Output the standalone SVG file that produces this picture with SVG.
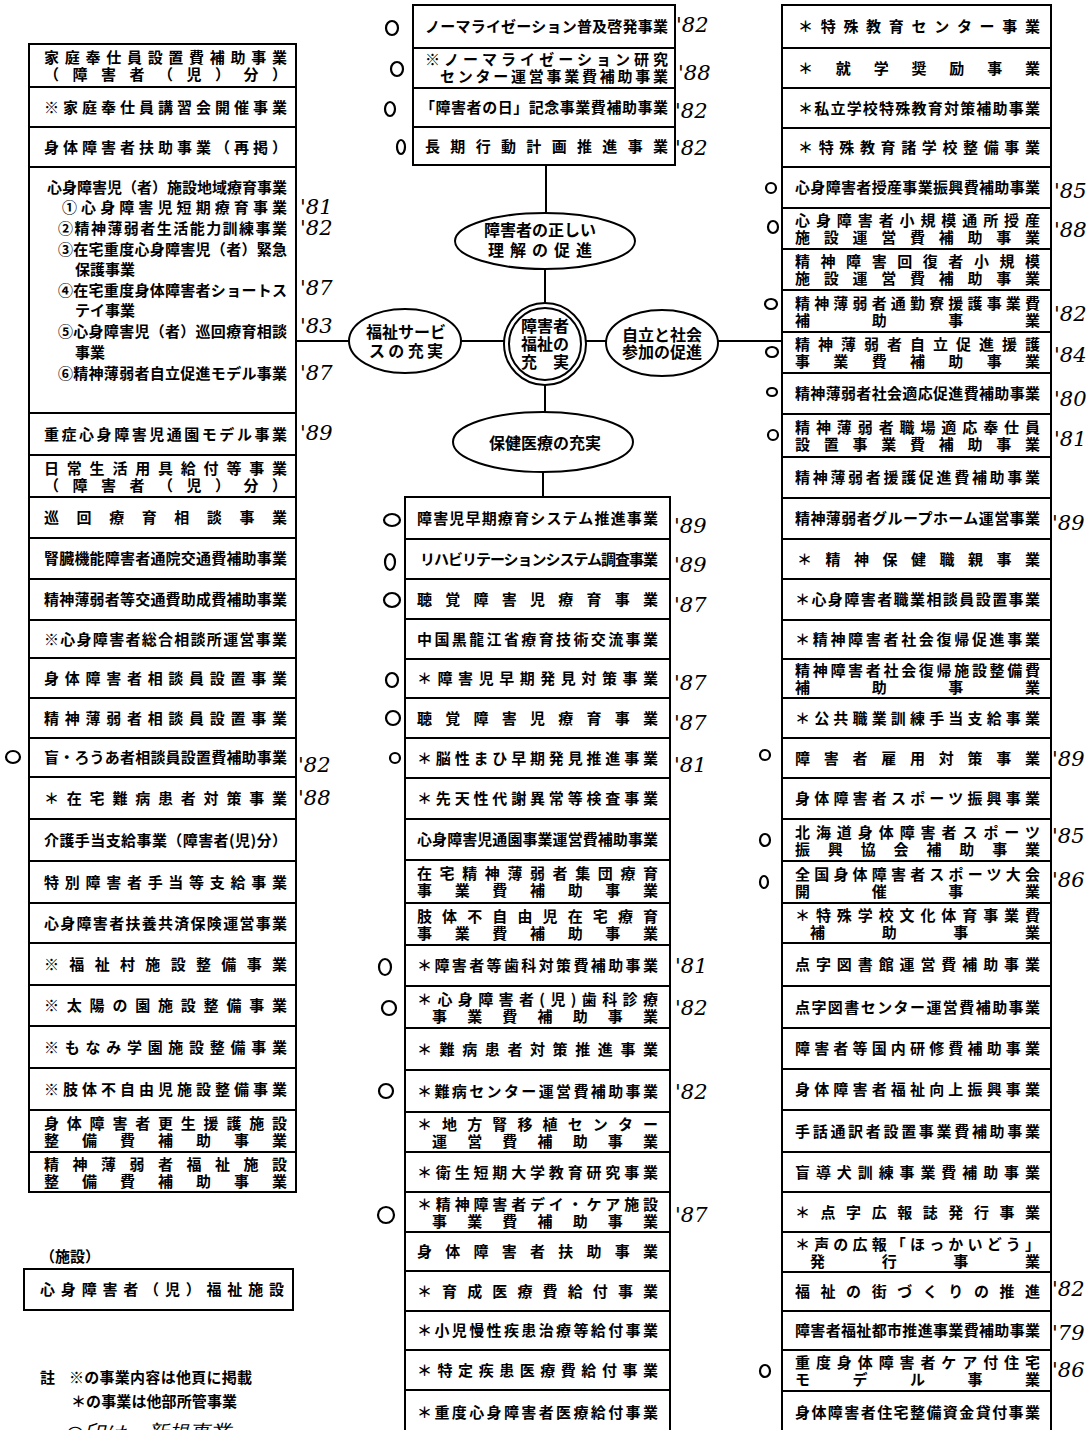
<svg xmlns="http://www.w3.org/2000/svg" width="1091" height="1430" viewBox="0 0 1091 1430">
<style>
.b{fill:#fff;stroke:#000;stroke-width:2}
.t{font-family:"Noto Sans CJK JP","Noto Sans CJK SC",sans-serif;font-size:15px;font-weight:700;fill:#000}
.e{font-family:"Noto Sans CJK JP","Noto Sans CJK SC",sans-serif;font-size:16px;font-weight:700;fill:#000;text-anchor:middle}
.c{fill:none;stroke:#000;stroke-width:2}
.h{font-family:"DejaVu Serif","Liberation Serif",serif;font-style:italic;font-size:21px;fill:#000}
.m{fill:none;stroke:#000;stroke-width:2.2}
</style>
<rect width="1091" height="1430" fill="#fff"/>
<g id="connectors" stroke="#000" stroke-width="2" fill="none">
<line x1="546" y1="165" x2="546" y2="212"/>
<line x1="545" y1="268" x2="545" y2="304"/>
<line x1="296" y1="341" x2="349" y2="341"/>
<line x1="461" y1="341" x2="505" y2="341"/>
<line x1="586" y1="341" x2="607" y2="341"/>
<line x1="718" y1="341" x2="782" y2="341"/>
<line x1="545" y1="385" x2="545" y2="412"/>
<line x1="543" y1="472" x2="543" y2="497"/>
</g>
<g id="center">
<circle cx="545" cy="344" r="41" class="c"/>
<circle cx="545" cy="344" r="36" class="c"/>
<text class="e" x="545" y="332">障害者</text>
<text class="e" x="545" y="350">福祉の</text>
<text class="e" x="545" y="368" textLength="48">充　実</text>
</g>
<g id="goal-understanding">
<ellipse cx="545" cy="241" rx="90" ry="28" class="c"/>
<text class="e" x="540" y="236">障害者の正しい</text>
<text class="e" x="540" y="256" textLength="104">理解の促進</text>
</g>
<g id="goal-welfare">
<ellipse cx="405" cy="341" rx="56" ry="32" class="c"/>
<text class="e" x="406" y="338">福祉サービ</text>
<text class="e" x="406" y="357" textLength="74">スの充実</text>
</g>
<g id="goal-independence">
<ellipse cx="662" cy="343" rx="56" ry="33" class="c"/>
<text class="e" x="662" y="341">自立と社会</text>
<text class="e" x="662" y="358">参加の促進</text>
</g>
<g id="goal-health">
<ellipse cx="543" cy="442" rx="90" ry="30" class="c"/>
<text class="e" x="545" y="449">保健医療の充実</text>
</g>

<g id="left-column">
<g id="L1"><rect class="b" x="29" y="44" width="267" height="43"/><text class="t" x="44" y="63" textLength="243">家庭奉仕員設置費補助事業</text><text class="t" x="44" y="80" textLength="243">（障害者（児）分）</text></g>
<g id="L2"><rect class="b" x="29" y="87" width="267" height="40"/><text class="t" x="44" y="112.5" textLength="243">※家庭奉仕員講習会開催事業</text></g>
<g id="L3"><rect class="b" x="29" y="127" width="267" height="40"/><text class="t" x="44" y="152.5" textLength="243">身体障害者扶助事業（再掲）</text></g>
<g id="L4"><rect class="b" x="29" y="167" width="267" height="246"/>
<text class="t" x="47" y="192.5" textLength="240">心身障害児（者）施設地域療育事業</text>
<text class="t" x="62" y="212.5" textLength="225">①心身障害児短期療育事業</text>
<text class="t" x="58" y="233.5" textLength="229">②精神薄弱者生活能力訓練事業</text>
<text class="t" x="58" y="254.5" textLength="229">③在宅重度心身障害児（者）緊急</text>
<text class="t" x="75" y="274.5">保護事業</text>
<text class="t" x="58" y="295.5" textLength="229">④在宅重度身体障害者ショートス</text>
<text class="t" x="75" y="315.5">テイ事業</text>
<text class="t" x="58" y="336.5" textLength="229">⑤心身障害児（者）巡回療育相談</text>
<text class="t" x="75" y="357.5">事業</text>
<text class="t" x="58" y="378.5" textLength="229">⑥精神薄弱者自立促進モデル事業</text>
</g>
<g id="L5"><rect class="b" x="29" y="413" width="267" height="42"/><text class="t" x="44" y="439.5" textLength="243">重症心身障害児通園モデル事業</text></g>
<g id="L6"><rect class="b" x="29" y="455" width="267" height="42"/><text class="t" x="44" y="473.5" textLength="243">日常生活用具給付等事業</text><text class="t" x="44" y="490.5" textLength="243">（障害者（児）分）</text></g>
<g id="L7"><rect class="b" x="29" y="497" width="267" height="41"/><text class="t" x="44" y="523" textLength="243">巡回療育相談事業</text></g>
<g id="L8"><rect class="b" x="29" y="538" width="267" height="41"/><text class="t" x="44" y="564" textLength="243">腎臓機能障害者通院交通費補助事業</text></g>
<g id="L9"><rect class="b" x="29" y="579" width="267" height="41"/><text class="t" x="44" y="605" textLength="243">精神薄弱者等交通費助成費補助事業</text></g>
<g id="L10"><rect class="b" x="29" y="620" width="267" height="38"/><text class="t" x="44" y="644.5" textLength="243">※心身障害者総合相談所運営事業</text></g>
<g id="L11"><rect class="b" x="29" y="658" width="267" height="40"/><text class="t" x="44" y="683.5" textLength="243">身体障害者相談員設置事業</text></g>
<g id="L12"><rect class="b" x="29" y="698" width="267" height="40"/><text class="t" x="44" y="723.5" textLength="243">精神薄弱者相談員設置事業</text></g>
<g id="L13"><rect class="b" x="29" y="738" width="267" height="39"/><text class="t" x="44" y="763" textLength="243">盲・ろうあ者相談員設置費補助事業</text></g>
<g id="L14"><rect class="b" x="29" y="777" width="267" height="42"/><text class="t" x="44" y="803.5" textLength="243">＊在宅難病患者対策事業</text></g>
<g id="L15"><rect class="b" x="29" y="819" width="267" height="42"/><text class="t" x="44" y="845.5" textLength="243">介護手当支給事業（障害者(児)分）</text></g>
<g id="L16"><rect class="b" x="29" y="861" width="267" height="42"/><text class="t" x="44" y="887.5" textLength="243">特別障害者手当等支給事業</text></g>
<g id="L17"><rect class="b" x="29" y="903" width="267" height="40"/><text class="t" x="44" y="928.5" textLength="243">心身障害者扶養共済保険運営事業</text></g>
<g id="L18"><rect class="b" x="29" y="943" width="267" height="42"/><text class="t" x="44" y="969.5" textLength="243">※福祉村施設整備事業</text></g>
<g id="L19"><rect class="b" x="29" y="985" width="267" height="41"/><text class="t" x="44" y="1011" textLength="243">※太陽の園施設整備事業</text></g>
<g id="L20"><rect class="b" x="29" y="1026" width="267" height="42"/><text class="t" x="44" y="1052.5" textLength="243">※もなみ学園施設整備事業</text></g>
<g id="L21"><rect class="b" x="29" y="1068" width="267" height="42"/><text class="t" x="44" y="1095" textLength="243">※肢体不自由児施設整備事業</text></g>
<g id="L22"><rect class="b" x="29" y="1110" width="267" height="42"/><text class="t" x="44" y="1128.5" textLength="243">身体障害者更生援護施設</text><text class="t" x="44" y="1145.5" textLength="243">整備費補助事業</text></g>
<g id="L23"><rect class="b" x="29" y="1152" width="267" height="40"/><text class="t" x="44" y="1169.5" textLength="243">精神薄弱者福祉施設</text><text class="t" x="44" y="1186.5" textLength="243">整備費補助事業</text></g>
</g>

<g id="facility">
<text class="t" x="40" y="1262" textLength="60">（施設）</text>
<rect class="b" x="24" y="1269" width="269" height="41"/>
<text class="t" x="40" y="1295" textLength="244">心身障害者（児）福祉施設</text>
</g>

<g id="notes">
<text class="t" x="40" y="1383">註</text>
<text class="t" x="69" y="1383" textLength="183">※の事業内容は他頁に掲載</text>
<text class="t" x="71" y="1407" textLength="166">＊の事業は他部所管事業</text>
<text class="h" x="66" y="1440" font-size="24">○印は、新規事業</text>
</g>

<g id="middle-top-column">
<g id="T1"><rect class="b" x="413" y="5" width="262" height="43"/><text class="t" x="425" y="32" textLength="243">ノーマライゼーション普及啓発事業</text></g>
<g id="T2"><rect class="b" x="413" y="48" width="262" height="40"/><text class="t" x="425" y="64.5" textLength="243">※ノーマライゼーション研究</text><text class="t" x="440" y="82" textLength="228">センター運営事業費補助事業</text></g>
<g id="T3"><rect class="b" x="413" y="88" width="262" height="39"/><text class="t" x="420" y="113" textLength="248">「障害者の日」記念事業費補助事業</text></g>
<g id="T4"><rect class="b" x="413" y="127" width="262" height="38"/><text class="t" x="425" y="152" textLength="243">長期行動計画推進事業</text></g>
</g>

<g id="middle-lower-column">
<g id="M1"><rect class="b" x="405" y="497" width="265" height="42"/><text class="t" x="417" y="523.5" textLength="241">障害児早期療育システム推進事業</text></g>
<g id="M2"><rect class="b" x="405" y="539" width="265" height="40"/><text class="t" x="420" y="564.5" textLength="238">リハビリテーションシステム調査事業</text></g>
<g id="M3"><rect class="b" x="405" y="579" width="265" height="40"/><text class="t" x="417" y="604.5" textLength="241">聴覚障害児療育事業</text></g>
<g id="M4"><rect class="b" x="405" y="619" width="265" height="40"/><text class="t" x="417" y="644.5" textLength="241">中国黒龍江省療育技術交流事業</text></g>
<g id="M5"><rect class="b" x="405" y="659" width="265" height="39"/><text class="t" x="417" y="684" textLength="241">＊障害児早期発見対策事業</text></g>
<g id="M6"><rect class="b" x="405" y="698" width="265" height="40"/><text class="t" x="417" y="723.5" textLength="241">聴覚障害児療育事業</text></g>
<g id="M7"><rect class="b" x="405" y="738" width="265" height="40"/><text class="t" x="417" y="763.5" textLength="241">＊脳性まひ早期発見推進事業</text></g>
<g id="M8"><rect class="b" x="405" y="778" width="265" height="41"/><text class="t" x="417" y="804" textLength="241">＊先天性代謝異常等検査事業</text></g>
<g id="M9"><rect class="b" x="405" y="819" width="265" height="41"/><text class="t" x="417" y="845" textLength="241">心身障害児通園事業運営費補助事業</text></g>
<g id="M10"><rect class="b" x="405" y="860" width="265" height="43"/><text class="t" x="417" y="879" textLength="241">在宅精神薄弱者集団療育</text><text class="t" x="417" y="896" textLength="241">事業費補助事業</text></g>
<g id="M11"><rect class="b" x="405" y="903" width="265" height="42"/><text class="t" x="417" y="921.5" textLength="241">肢体不自由児在宅療育</text><text class="t" x="417" y="938.5" textLength="241">事業費補助事業</text></g>
<g id="M12"><rect class="b" x="405" y="945" width="265" height="41"/><text class="t" x="417" y="971" textLength="241">＊障害者等歯科対策費補助事業</text></g>
<g id="M13"><rect class="b" x="405" y="986" width="265" height="42"/><text class="t" x="417" y="1004.5" textLength="241">＊心身障害者(児)歯科診療</text><text class="t" x="432" y="1021.5" textLength="226">事業費補助事業</text></g>
<g id="M14"><rect class="b" x="405" y="1028" width="265" height="42"/><text class="t" x="417" y="1054.5" textLength="241">＊難病患者対策推進事業</text></g>
<g id="M15"><rect class="b" x="405" y="1070" width="265" height="42"/><text class="t" x="417" y="1096.5" textLength="241">＊難病センター運営費補助事業</text></g>
<g id="M16"><rect class="b" x="405" y="1112" width="265" height="40"/><text class="t" x="417" y="1129.5" textLength="241">＊地方腎移植センター</text><text class="t" x="432" y="1146.5" textLength="226">運営費補助事業</text></g>
<g id="M17"><rect class="b" x="405" y="1152" width="265" height="40"/><text class="t" x="417" y="1177.5" textLength="241">＊衛生短期大学教育研究事業</text></g>
<g id="M18"><rect class="b" x="405" y="1192" width="265" height="40"/><text class="t" x="417" y="1209.5" textLength="241">＊精神障害者デイ・ケア施設</text><text class="t" x="432" y="1226.5" textLength="226">事業費補助事業</text></g>
<g id="M19"><rect class="b" x="405" y="1232" width="265" height="39"/><text class="t" x="417" y="1257" textLength="241">身体障害者扶助事業</text></g>
<g id="M20"><rect class="b" x="405" y="1271" width="265" height="40"/><text class="t" x="417" y="1296.5" textLength="241">＊育成医療費給付事業</text></g>
<g id="M21"><rect class="b" x="405" y="1311" width="265" height="39"/><text class="t" x="417" y="1336" textLength="241">＊小児慢性疾患治療等給付事業</text></g>
<g id="M22"><rect class="b" x="405" y="1350" width="265" height="40"/><text class="t" x="417" y="1375.5" textLength="241">＊特定疾患医療費給付事業</text></g>
<g id="M23"><rect class="b" x="405" y="1390" width="265" height="50"/><text class="t" x="417" y="1417.5" textLength="241">＊重度心身障害者医療給付事業</text></g>
</g>

<g id="right-column">
<g id="R1"><rect class="b" x="782" y="5" width="269" height="43"/><text class="t" x="798" y="32" textLength="242">＊特殊教育センター事業</text></g>
<g id="R2"><rect class="b" x="782" y="48" width="269" height="40"/><text class="t" x="798" y="73.5" textLength="242">＊就学奨励事業</text></g>
<g id="R3"><rect class="b" x="782" y="88" width="269" height="40"/><text class="t" x="798" y="113.5" textLength="242">＊私立学校特殊教育対策補助事業</text></g>
<g id="R4"><rect class="b" x="782" y="128" width="269" height="39"/><text class="t" x="798" y="153" textLength="242">＊特殊教育諸学校整備事業</text></g>
<g id="R5"><rect class="b" x="782" y="167" width="269" height="41"/><text class="t" x="795" y="193" textLength="245">心身障害者授産事業振興費補助事業</text></g>
<g id="R6"><rect class="b" x="782" y="208" width="269" height="41"/><text class="t" x="795" y="226" textLength="245">心身障害者小規模通所授産</text><text class="t" x="795" y="243" textLength="245">施設運営費補助事業</text></g>
<g id="R7"><rect class="b" x="782" y="249" width="269" height="41"/><text class="t" x="795" y="267" textLength="245">精神障害回復者小規模</text><text class="t" x="795" y="284" textLength="245">施設運営費補助事業</text></g>
<g id="R8"><rect class="b" x="782" y="290" width="269" height="42"/><text class="t" x="795" y="308.5" textLength="245">精神薄弱者通勤寮援護事業費</text><text class="t" x="795" y="325.5" textLength="245">補助事業</text></g>
<g id="R9"><rect class="b" x="782" y="332" width="269" height="41"/><text class="t" x="795" y="350" textLength="245">精神薄弱者自立促進援護</text><text class="t" x="795" y="367" textLength="245">事業費補助事業</text></g>
<g id="R10"><rect class="b" x="782" y="373" width="269" height="41"/><text class="t" x="795" y="399" textLength="245">精神薄弱者社会適応促進費補助事業</text></g>
<g id="R11"><rect class="b" x="782" y="414" width="269" height="43"/><text class="t" x="795" y="433" textLength="245">精神薄弱者職場適応奉仕員</text><text class="t" x="795" y="450" textLength="245">設置事業費補助事業</text></g>
<g id="R12"><rect class="b" x="782" y="457" width="269" height="41"/><text class="t" x="795" y="483" textLength="245">精神薄弱者援護促進費補助事業</text></g>
<g id="R13"><rect class="b" x="782" y="498" width="269" height="41"/><text class="t" x="795" y="524" textLength="245">精神薄弱者グループホーム運営事業</text></g>
<g id="R14"><rect class="b" x="782" y="539" width="269" height="40"/><text class="t" x="797" y="564.5" textLength="243">＊精神保健職親事業</text></g>
<g id="R15"><rect class="b" x="782" y="579" width="269" height="41"/><text class="t" x="795" y="605" textLength="245">＊心身障害者職業相談員設置事業</text></g>
<g id="R16"><rect class="b" x="782" y="620" width="269" height="39"/><text class="t" x="795" y="645" textLength="245">＊精神障害者社会復帰促進事業</text></g>
<g id="R17"><rect class="b" x="782" y="659" width="269" height="39"/><text class="t" x="795" y="676" textLength="245">精神障害者社会復帰施設整備費</text><text class="t" x="795" y="693" textLength="245">補助事業</text></g>
<g id="R18"><rect class="b" x="782" y="698" width="269" height="40"/><text class="t" x="795" y="723.5" textLength="245">＊公共職業訓練手当支給事業</text></g>
<g id="R19"><rect class="b" x="782" y="738" width="269" height="40"/><text class="t" x="795" y="763.5" textLength="245">障害者雇用対策事業</text></g>
<g id="R20"><rect class="b" x="782" y="778" width="269" height="41"/><text class="t" x="795" y="804" textLength="245">身体障害者スポーツ振興事業</text></g>
<g id="R21"><rect class="b" x="782" y="819" width="269" height="42"/><text class="t" x="795" y="837.5" textLength="245">北海道身体障害者スポーツ</text><text class="t" x="795" y="854.5" textLength="245">振興協会補助事業</text></g>
<g id="R22"><rect class="b" x="782" y="861" width="269" height="42"/><text class="t" x="795" y="879.5" textLength="245">全国身体障害者スポーツ大会</text><text class="t" x="795" y="896.5" textLength="245">開催事業</text></g>
<g id="R23"><rect class="b" x="782" y="903" width="269" height="40"/><text class="t" x="795" y="920.5" textLength="245">＊特殊学校文化体育事業費</text><text class="t" x="810" y="937.5" textLength="230">補助事業</text></g>
<g id="R24"><rect class="b" x="782" y="943" width="269" height="43"/><text class="t" x="795" y="970" textLength="245">点字図書館運営費補助事業</text></g>
<g id="R25"><rect class="b" x="782" y="986" width="269" height="42"/><text class="t" x="795" y="1012.5" textLength="245">点字図書センター運営費補助事業</text></g>
<g id="R26"><rect class="b" x="782" y="1028" width="269" height="41"/><text class="t" x="795" y="1054" textLength="245">障害者等国内研修費補助事業</text></g>
<g id="R27"><rect class="b" x="782" y="1069" width="269" height="41"/><text class="t" x="795" y="1095" textLength="245">身体障害者福祉向上振興事業</text></g>
<g id="R28"><rect class="b" x="782" y="1110" width="269" height="42"/><text class="t" x="795" y="1136.5" textLength="245">手話通訳者設置事業費補助事業</text></g>
<g id="R29"><rect class="b" x="782" y="1152" width="269" height="40"/><text class="t" x="795" y="1177.5" textLength="245">盲導犬訓練事業費補助事業</text></g>
<g id="R30"><rect class="b" x="782" y="1192" width="269" height="40"/><text class="t" x="795" y="1217.5" textLength="245">＊点字広報誌発行事業</text></g>
<g id="R31"><rect class="b" x="782" y="1232" width="269" height="40"/><text class="t" x="795" y="1249.5" textLength="245">＊声の広報「ほっかいどう」</text><text class="t" x="810" y="1266.5" textLength="230">発行事業</text></g>
<g id="R32"><rect class="b" x="782" y="1272" width="269" height="39"/><text class="t" x="795" y="1297" textLength="245">福祉の街づくりの推進</text></g>
<g id="R33"><rect class="b" x="782" y="1311" width="269" height="39"/><text class="t" x="795" y="1336" textLength="245">障害者福祉都市推進事業費補助事業</text></g>
<g id="R34"><rect class="b" x="782" y="1350" width="269" height="41"/><text class="t" x="795" y="1368" textLength="245">重度身体障害者ケア付住宅</text><text class="t" x="795" y="1385" textLength="245">モデル事業</text></g>
<g id="R35"><rect class="b" x="782" y="1391" width="269" height="50"/><text class="t" x="795" y="1417.5" textLength="245">身体障害者住宅整備資金貸付事業</text></g>
</g>

<g id="annotations">
<ellipse class="m" cx="392" cy="28" rx="6" ry="7"/><text class="h" x="676" y="32">'82</text>
<ellipse class="m" cx="397" cy="69" rx="6" ry="7" stroke-width="3.2"/><text class="h" x="678" y="80">'88</text>
<ellipse class="m" cx="390" cy="109" rx="5" ry="7"/><text class="h" x="675" y="118">'82</text>
<ellipse class="m" cx="401" cy="147" rx="4" ry="7"/><text class="h" x="675" y="155">'82</text>

<text class="h" x="300" y="214">'81</text>
<text class="h" x="300" y="235">'82</text>
<text class="h" x="300" y="295">'87</text>
<text class="h" x="300" y="333">'83</text>
<text class="h" x="300" y="380">'87</text>
<text class="h" x="300" y="440">'89</text>
<ellipse class="m" cx="13" cy="757" rx="7" ry="6"/><text class="h" x="298" y="772">'82</text>
<text class="h" x="298" y="805">'88</text>

<ellipse class="m" cx="392" cy="520" rx="8" ry="6"/><text class="h" x="674" y="533">'89</text>
<ellipse class="m" cx="390" cy="562" rx="5" ry="8"/><text class="h" x="674" y="572">'89</text>
<ellipse class="m" cx="392" cy="600" rx="8" ry="7"/><text class="h" x="674" y="612">'87</text>
<ellipse class="m" cx="392" cy="680" rx="6" ry="7"/><text class="h" x="674" y="690">'87</text>
<ellipse class="m" cx="393" cy="718" rx="7" ry="7"/><text class="h" x="674" y="730">'87</text>
<ellipse class="m" cx="395" cy="758" rx="5" ry="5"/><text class="h" x="674" y="772">'81</text>
<ellipse class="m" cx="385" cy="967" rx="6" ry="8"/><text class="h" x="675" y="973">'81</text>
<ellipse class="m" cx="389" cy="1008" rx="7" ry="7"/><text class="h" x="675" y="1015">'82</text>
<ellipse class="m" cx="386" cy="1091" rx="7" ry="7"/><text class="h" x="675" y="1099">'82</text>
<ellipse class="m" cx="386" cy="1215" rx="8" ry="8"/><text class="h" x="675" y="1222">'87</text>

<ellipse class="m" cx="771" cy="188" rx="5" ry="5" stroke-width="3.2"/><text class="h" x="1054" y="198">'85</text>
<ellipse class="m" cx="773" cy="227" rx="5" ry="6"/><text class="h" x="1054" y="237">'88</text>
<ellipse class="m" cx="771" cy="304" rx="6" ry="5" stroke-width="3.2"/><text class="h" x="1054" y="321">'82</text>
<ellipse class="m" cx="772" cy="352" rx="6" ry="5" stroke-width="3.2"/><text class="h" x="1054" y="362">'84</text>
<ellipse class="m" cx="772" cy="392" rx="5" ry="4"/><text class="h" x="1054" y="406">'80</text>
<ellipse class="m" cx="773" cy="435" rx="5" ry="5"/><text class="h" x="1054" y="446">'81</text>
<text class="h" x="1052" y="530">'89</text>
<ellipse class="m" cx="765" cy="755" rx="5" ry="5"/><text class="h" x="1052" y="766">'89</text>
<ellipse class="m" cx="765" cy="840" rx="5" ry="6"/><text class="h" x="1052" y="843">'85</text>
<ellipse class="m" cx="764" cy="882" rx="4" ry="6"/><text class="h" x="1052" y="887">'86</text>
<text class="h" x="1052" y="1296">'82</text>
<text class="h" x="1052" y="1340">'79</text>
<ellipse class="m" cx="765" cy="1371" rx="5" ry="6"/><text class="h" x="1052" y="1377">'86</text>
</g>
</svg>
